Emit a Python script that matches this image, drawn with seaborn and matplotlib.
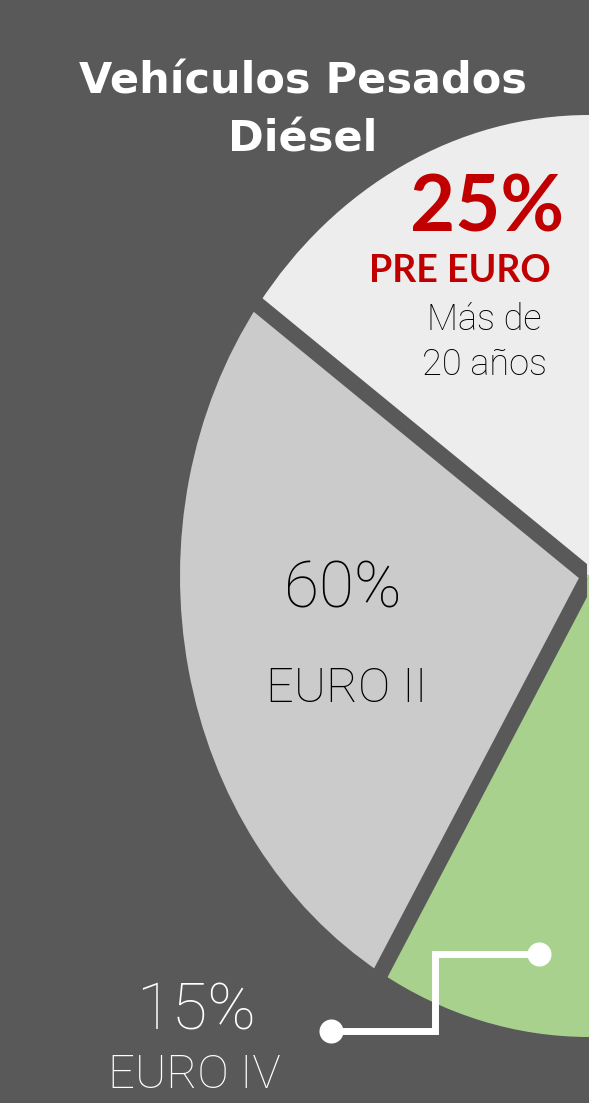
import matplotlib
matplotlib.use('Agg')
import matplotlib.pyplot as plt
import numpy as np
import seaborn as sns

# data
categories = ['PRE EURO', 'EURO II', 'EURO IV']
percent_labels = ['25%', '60%', '15%']
# share of the half circle each slice takes in the drawing
slice_shares = [30, 53, 17]
slice_colors = ['#ededed', '#cbcbcb', '#a9d18e']
pre_euro_note = ['Más de', '20 años']
title_lines = ['Vehículos Pesados', 'Diésel']

BG = '#595959'
RED = '#c00000'
W, H = 589, 1103

sns.set_theme(style='white')
plt.rcParams['font.family'] = ['Lato', 'DejaVu Sans']
LIGHT = ['Roboto', 'DejaVu Sans']

fig = plt.figure(figsize=(W / 100, H / 100), dpi=100, facecolor=BG)

# pie axes: half ellipse centred at pixel (589, 576), semi axes 409 x 461 px
cx, cy, rx, ry = 589, 576, 409, 461
ax = fig.add_axes([0, 0, 587 / W, 1])
ax.set_facecolor(BG)

sizes = slice_shares + [sum(slice_shares)]   # hidden right half
colors = slice_colors + ['none']
wedges, _ = ax.pie(sizes, colors=colors, startangle=90, counterclock=True,
                   radius=1, center=(0, 0), wedgeprops=dict(linewidth=0))

# gaps between slices
bounds = 90 + 180 * np.cumsum(slice_shares)[:-1] / sum(slice_shares)
for a in np.deg2rad(bounds):
    ax.plot([0, 1.3 * np.cos(a)], [0, 1.3 * np.sin(a)], color=BG, lw=11.5,
            solid_capstyle='butt')

ax.set_aspect('auto')
ax.set_xlim(-cx / rx, (587 - cx) / rx)
ax.set_ylim(-(H - cy) / ry, cy / ry)
ax.axis('off')

# overlay in pixel coordinates for the texts
ov = fig.add_axes([0, 0, 1, 1])
ov.set_xlim(0, W)
ov.set_ylim(H, 0)
ov.axis('off')
ov.patch.set_alpha(0)

ov.text(303, 93, title_lines[0], color='white', fontsize=31, fontweight='bold',
        family=['DejaVu Sans'], ha='center', va='baseline')
ov.text(303, 152, title_lines[1], color='white', fontsize=31, fontweight='bold',
        family=['DejaVu Sans'], ha='center', va='baseline')

ov.text(487, 232, percent_labels[0], color=RED, fontsize=56, fontweight='bold',
        ha='center', va='baseline')
ov.text(460, 282, categories[0], color=RED, fontsize=27, fontweight='bold',
        ha='center', va='baseline')
ov.text(484, 330, pre_euro_note[0], color='black', fontsize=26,
        family=LIGHT, fontweight='light', ha='center', va='baseline')
ov.text(484, 375, pre_euro_note[1], color='black', fontsize=26,
        family=LIGHT, fontweight='light', ha='center', va='baseline')

ov.text(343, 608, percent_labels[1], color='black', fontsize=46,
        family=LIGHT, fontweight='light', ha='center', va='baseline')
ov.text(347, 702, categories[1], color='black', fontsize=35,
        family=LIGHT, fontweight='light', ha='center', va='baseline')

ov.text(196, 1030, percent_labels[2], color='white', fontsize=47,
        family=LIGHT, fontweight='light', ha='center', va='baseline')
ov.text(194, 1088, categories[2], color='white', fontsize=34,
        family=LIGHT, fontweight='light', ha='center', va='baseline')

# leader line to the EURO IV slice
ov.plot([331, 435, 435, 539], [1031, 1031, 954, 954], color='white', lw=5,
        solid_joinstyle='miter', solid_capstyle='butt')
ov.scatter([331, 539], [1031, 954], s=300, color='white', zorder=3, linewidths=0)

fig.savefig('out.png', dpi=100, facecolor=BG)
